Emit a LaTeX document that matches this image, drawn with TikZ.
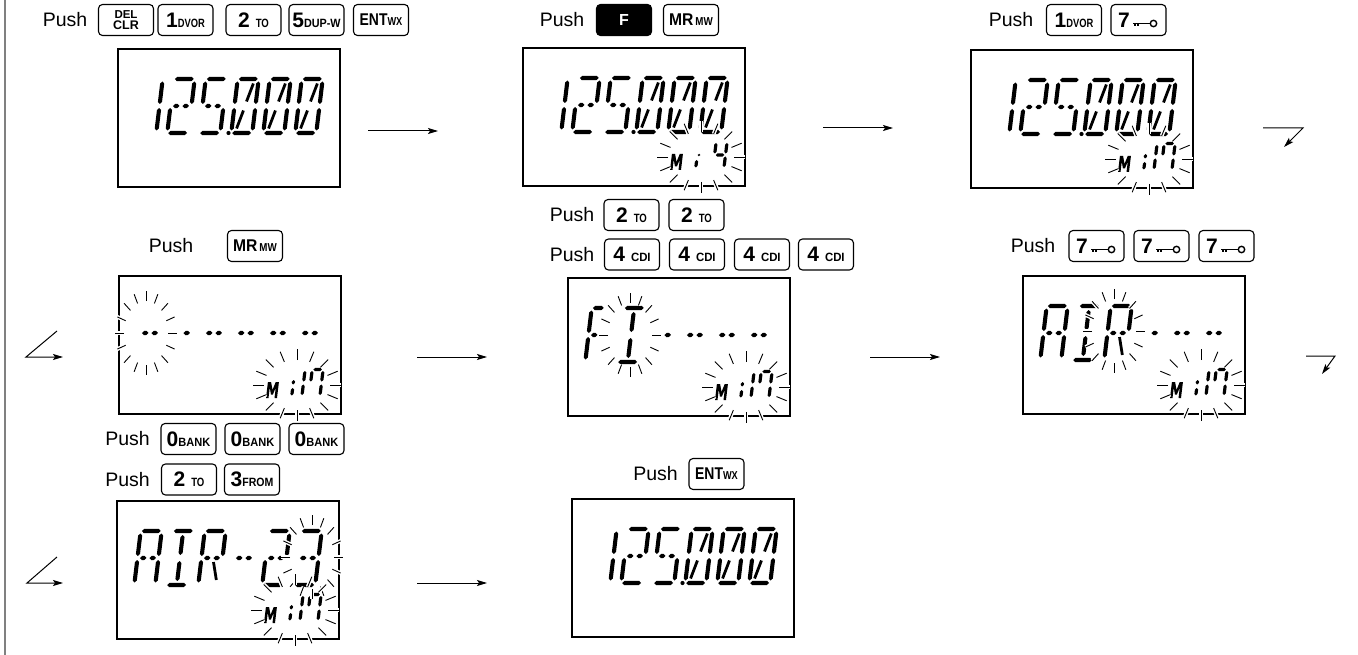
\documentclass[tikz,border=0pt]{standalone}
\usepackage{fontspec}
\usepackage{graphicx}
\setmainfont{Liberation Sans}
\usetikzlibrary{arrows.meta,calc}

\newcommand\segw{2.05}
\newcommand{\lcdh}[3]{\fill (#1,#3) -- ({#1+\segw},{#3+\segw}) -- ({#2-\segw},{#3+\segw}) -- (#2,#3) -- ({#2-\segw},{#3-\segw}) -- ({#1+\segw},{#3-\segw}) -- cycle;}
\newcommand{\lcdv}[3]{\fill (#1,#2) -- ({#1+\segw},{#2+\segw}) -- ({#1+\segw},{#3-\segw}) -- (#1,#3) -- ({#1-\segw},{#3-\segw}) -- ({#1-\segw},{#2+\segw}) -- cycle;}
% big 14-segment cell (23 x 58)
\newcommand\segA{\lcdh{2.2}{21}{56}}
\newcommand\segD{\lcdh{2}{20.8}{2}}
\newcommand\segF{\lcdv{1}{31}{53.5}}
\newcommand\segE{\lcdv{1}{4.5}{27}}
\newcommand\segB{\lcdv{22}{31}{53.5}}
\newcommand\segC{\lcdv{22}{4.5}{27}}
\newcommand\segGa{\lcdh{3.5}{10}{29}}
\newcommand\segGb{\lcdh{13}{19.5}{29}}
\newcommand\segI{\lcdv{11.5}{32}{52}}
\newcommand\segL{\lcdv{11.5}{6}{26}}
\newcommand\segK{\draw[line width=2.8pt] (12.5,33.5) -- (17.2,51.5);}
\newcommand\segN{\draw[line width=2.8pt] (5.8,6.5) -- (10.5,24.5);}
\newcommand\segM{\draw[line width=2.8pt] (13.5,25) -- (18.5,7);}
\newcommand\digOne{\segB\segC}
\newcommand\digTwo{\segA\segB\segGa\segGb\segE\segD}
\newcommand\digThree{\segA\segB\segC\segGa\segGb\segD}
\newcommand\digFive{\segA\segF\segGa\segGb\segC\segD}
\newcommand\digZero{\segA\segB\segC\segD\segE\segF\segK\segN}
\newcommand\chA{\segA\segB\segC\segE\segF\segGa\segGb}
\newcommand\chI{\segA\segD\segI\segL}
\newcommand\chR{\segA\segB\segF\segE\segGa\segGb\segM}
\newcommand\chDash{\segGa\segGb}
\newcommand{\lcdchr}[3]{\begin{scope}[shift={(#1,#2)},xslant=0.12]#3\end{scope}}
% small 7-segment cell (12 x 30)
\newcommand\ssA{\lcdh{2}{10.5}{28.5}}
\newcommand\ssF{\lcdv{0.8}{16.5}{27}}
\newcommand\ssB{\lcdv{11.7}{16.5}{27}}
\newcommand\ssC{\lcdv{11.7}{3}{13.5}}
\newcommand\ssE{\lcdv{0.8}{3}{13.5}}
\newcommand\ssG{\lcdh{2}{10.5}{15}}
\newcommand{\smallchr}[3]{\begin{scope}[shift={(#1,#2)},xslant=0.12]\renewcommand\segw{1.6}#3\end{scope}}
\newcommand{\freq}{\lcdchr{17}{-87}{\digOne}\lcdchr{49}{-87}{\digTwo}\lcdchr{81}{-87}{\digFive}\fill (111.5,-85) circle (2.1);\lcdchr{113}{-87}{\digZero}\lcdchr{145}{-87}{\digZero}\lcdchr{177}{-87}{\digZero}}
\newcommand{\mlabel}{\begin{scope}[shift={(148,-123)},xslant=0.12]\fill (0,0) -- (0,16) -- (3.2,16) -- (5.5,8) -- (7.8,16) -- (11,16) -- (11,0) -- (8.5,0) -- (8.5,10.5) -- (6.5,3.5) -- (4.5,3.5) -- (2.5,10.5) -- (2.5,0) -- cycle;\end{scope}}
\newcommand{\chan}{\mlabel\smallchr{170}{-123}{\lcdv{3.5}{2.5}{10}\lcdv{3.5}{13.5}{18}}\smallchr{172}{-123}{\ssB\ssC}\smallchr{190}{-123}{\ssA\ssF\ssB\ssC}}
\newcommand{\chanfour}{\mlabel\smallchr{170}{-123}{\lcdv{3.5}{2.5}{10}\fill (5.2,15) circle (1.3);}\smallchr{190}{-123}{\ssF\ssG\ssB\ssC}}
\newcommand{\flashrays}[6]{%
 \foreach \ang in {0,22.5,...,337.5}{\draw[line width=3.8pt,white] ({#1+#3*cos(\ang)},{#2+#4*sin(\ang)}) -- ({#1+#5*cos(\ang)},{#2+#6*sin(\ang)});}
 \foreach \ang in {0,22.5,...,337.5}{\draw[line width=0.9pt] ({#1+#3*cos(\ang)},{#2+#4*sin(\ang)}) -- ({#1+#5*cos(\ang)},{#2+#6*sin(\ang)});}}
\newcommand{\bigflash}[2]{\flashrays{#1}{#2}{22}{32}{31}{42}}
\newcommand{\smallflash}{\flashrays{179}{-110}{33}{25}{44}{36}}
% key text: digit, label, horizontal scale of label
\newcommand{\kt}[3]{{\fontsize{21}{21}\selectfont #1}{\fontsize{12}{12}\selectfont\scalebox{#3}[1]{#2}}}
\newcommand{\seven}{{\fontsize{21}{21}\selectfont 7}\kern29pt}
\newcommand{\enttxt}{{\fontsize{17}{16}\selectfont\scalebox{0.82}[1]{ENT}}{\fontsize{11.5}{10}\selectfont\scalebox{0.8}[1]{WX}}}
\newcommand{\mrtxt}{{\fontsize{17}{16}\selectfont\scalebox{0.92}[1]{MR}}\kern2pt{\fontsize{11.5}{10}\selectfont\scalebox{0.85}[1]{MW}}}
\newcommand{\keyicon}[1]{%
 \draw[line width=1.4pt] ($(#1.center)+(-5.5,-3.5)$) -- ($(#1.center)+(11.8,-3.5)$);
 \draw[line width=1.2pt] ($(#1.center)+(-3.5,-3.5)$) -- ++(0,-2.6) ($(#1.center)+(-0.5,-3.5)$) -- ++(0,-2.6);
 \draw[line width=1.4pt] ($(#1.center)+(15,-3.5)$) circle (3.2);}

\tikzset{
 lcd/.style={draw, line width=2pt, minimum width=222pt, minimum height=138pt, inner sep=0pt, anchor=north west},
 key/.style={draw, line width=1.1pt, rounded corners=4pt, minimum width=55pt, minimum height=31pt, inner sep=0pt, font=\bfseries},
 fkey/.style={key, fill=black, text=white, font=\fontsize{16}{16}\selectfont\bfseries},
 push/.style={inner sep=0pt, font=\fontsize{19.5}{20}\selectfont},
 arr/.style={line width=1pt, line join=miter, -{Stealth[length=10pt,width=6pt,inset=2pt]}}
}

\begin{document}
\begin{tikzpicture}[x=1pt,y=1pt]
\useasboundingbox (0,0) rectangle (1358,-655);
\draw[black!50, line width=2pt] (5,0) -- (5,-655);

% ---------- row 1 ----------
\node[push] (p1) at (65,-20) {Push};
\node[key, align=center] (kdel) at (126,-20) {{\fontsize{11.5}{10}\selectfont DEL}\\[-1pt]{\fontsize{12.5}{10}\selectfont CLR}};
\node[key] (k1a) at (185.5,-20) {\kt{1}{DVOR}{0.78}};
\node[key] (k2a) at (253.5,-20) {\kt{2\hspace{6pt}}{TO}{0.8}};
\node[key] (k5) at (316.5,-20) {\kt{5}{DUP-W}{0.9}};
\node[key] (kent1) at (381,-20) {\enttxt};

\node[push] (p2) at (562,-20) {Push};
\node[fkey] (kF) at (624,-20) {F};
\node[key] (kmr1) at (691,-20) {\mrtxt};

\node[push] (p3) at (1011,-20) {Push};
\node[key] (k1b) at (1074,-20) {\kt{1}{DVOR}{0.78}};
\node[key] (k7a) at (1138.5,-20) {\seven};
\keyicon{k7a}

\node[lcd] (d1) at (117,-48) {};
\begin{scope}[shift={(117,-48)}]\freq\end{scope}
\node[lcd] (d2) at (522,-47) {};
\begin{scope}[shift={(522,-47)}]\freq\chanfour\smallflash\end{scope}
\node[lcd] (d3) at (970,-49) {};
\begin{scope}[shift={(970,-49)}]\freq\chan\smallflash\end{scope}

% ---------- row 2 ----------
\node[push] (p4) at (171,-246) {Push};
\node[key] (kmr2) at (255,-246) {\mrtxt};

\node[push] (p5a) at (572,-215) {Push};
\node[key] (k2b) at (631.5,-215) {\kt{2\hspace{6pt}}{TO}{0.8}};
\node[key] (k2c) at (696.5,-215) {\kt{2\hspace{6pt}}{TO}{0.8}};
\node[push] (p5b) at (572,-254.5) {Push};
\node[key] (k4a) at (632,-254.5) {\kt{4\hspace{6pt}}{CDI}{0.95}};
\node[key] (k4b) at (697,-254.5) {\kt{4\hspace{6pt}}{CDI}{0.95}};
\node[key] (k4c) at (762,-254.5) {\kt{4\hspace{6pt}}{CDI}{0.95}};
\node[key] (k4d) at (826,-254.5) {\kt{4\hspace{6pt}}{CDI}{0.95}};

\node[push] (p6) at (1033,-246) {Push};
\node[key] (k7b) at (1096.5,-246) {\seven};
\node[key] (k7c) at (1161.5,-246) {\seven};
\node[key] (k7d) at (1226.5,-246) {\seven};
\keyicon{k7b}\keyicon{k7c}\keyicon{k7d}

\node[lcd] (d4) at (118,-275) {};
\begin{scope}[shift={(118,-275)}]
 \lcdchr{17}{-87}{\chDash}\lcdchr{49}{-87}{\segGb}\lcdchr{81}{-87}{\chDash}
 \lcdchr{113}{-87}{\chDash}\lcdchr{145}{-87}{\chDash}\lcdchr{177}{-87}{\chDash}
 \chan\bigflash{28}{-58}\smallflash
\end{scope}
\node[lcd] (d5) at (567,-277) {};
\begin{scope}[shift={(567,-277)}]
 \lcdchr{17}{-87}{\lcdh{2.2}{13}{56}\segF\segE\segGa}\lcdchr{49}{-87}{\chI}\lcdchr{81}{-87}{\segGb}
 \lcdchr{113}{-87}{\chDash}\lcdchr{145}{-87}{\chDash}\lcdchr{177}{-87}{\chDash}
 \chan\bigflash{63}{-58}\smallflash
\end{scope}
\node[lcd] (d6) at (1022,-275) {};
\begin{scope}[shift={(1022,-275)}]
 \lcdchr{17}{-87}{\chA}\lcdchr{49}{-87}{\chI}\lcdchr{81}{-87}{\chR}
 \lcdchr{113}{-87}{\segGb}\lcdchr{145}{-87}{\chDash}\lcdchr{177}{-87}{\chDash}
 \chan\bigflash{92}{-56}\smallflash
\end{scope}

% ---------- row 3 ----------
\node[push] (p7a) at (127.5,-439) {Push};
\node[key] (k0a) at (188.5,-439) {\kt{0}{BANK}{0.92}};
\node[key] (k0b) at (252.5,-439) {\kt{0}{BANK}{0.92}};
\node[key] (k0c) at (316.5,-439) {\kt{0}{BANK}{0.92}};
\node[push] (p7b) at (127.5,-479.5) {Push};
\node[key] (k2d) at (189,-479.5) {\kt{2\hspace{6pt}}{TO}{0.8}};
\node[key] (k3) at (252,-479.5) {\kt{3}{FROM}{0.88}};

\node[push] (p8) at (655.5,-474) {Push};
\node[key] (kent2) at (716.5,-474) {\enttxt};

\node[lcd] (d7) at (116,-500) {};
\begin{scope}[shift={(116,-500)}]
 \lcdchr{17}{-87}{\chA}\lcdchr{49}{-87}{\chI}\lcdchr{81}{-87}{\chR}
 \lcdchr{113}{-87}{\chDash}\lcdchr{145}{-87}{\digTwo}\lcdchr{177}{-87}{\digThree}
 \chan\bigflash{196}{-57}\smallflash
\end{scope}
\node[lcd] (d8) at (571,-498) {};
\begin{scope}[shift={(571,-498)}]\freq\end{scope}

% ---------- arrows ----------
\coordinate (a1s) at (368,-131); \coordinate (a1e) at (438,-131);
\coordinate (a2s) at (823,-128); \coordinate (a2e) at (893,-128);
\coordinate (a3s) at (417,-357); \coordinate (a3e) at (487,-357);
\coordinate (a4s) at (870,-357); \coordinate (a4e) at (940,-357);
\coordinate (a5s) at (417,-583); \coordinate (a5e) at (487,-583);
\draw[arr] (a1s) -- (a1e);
\draw[arr] (a2s) -- (a2e);
\draw[arr] (a3s) -- (a3e);
\draw[arr] (a4s) -- (a4e);
\draw[arr] (a5s) -- (a5e);
\coordinate (t1a) at (1263,-128); \coordinate (t1b) at (1303,-128); \coordinate (t1c) at (1284,-147);
\coordinate (t2a) at (1306,-356); \coordinate (t2b) at (1335,-356); \coordinate (t2c) at (1322,-374);
\coordinate (t3a) at (57,-331); \coordinate (t3b) at (26,-357); \coordinate (t3c) at (63,-357);
\coordinate (t4a) at (57,-557); \coordinate (t4b) at (27,-583); \coordinate (t4c) at (63,-583);
\draw[arr] (t1a) -- (t1b) -- (t1c);
\draw[arr] (t2a) -- (t2b) -- (t2c);
\draw[arr] (t3a) -- (t3b) -- (t3c);
\draw[arr] (t4a) -- (t4b) -- (t4c);
\end{tikzpicture}
\end{document}
